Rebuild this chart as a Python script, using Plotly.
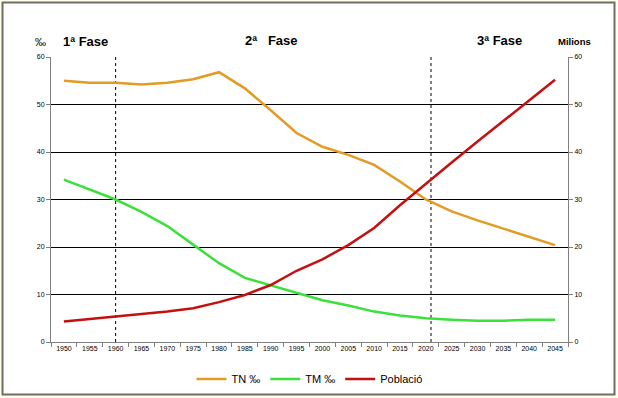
import plotly.graph_objects as go

years = list(range(1950, 2050, 5))
tn = [55.0, 54.6, 54.6, 54.2, 54.6, 55.3, 56.8, 53.4, 48.8, 44.0, 41.1, 39.4, 37.3, 33.8, 30.0, 27.5, 25.6, 23.9, 22.2, 20.4]
tm = [34.2, 32.1, 30.0, 27.4, 24.4, 20.5, 16.6, 13.5, 11.9, 10.4, 8.8, 7.7, 6.4, 5.6, 5.0, 4.7, 4.5, 4.5, 4.7, 4.7]
pob = [4.3, 4.8, 5.3, 5.8, 6.4, 7.1, 8.4, 9.9, 12.0, 15.0, 17.4, 20.4, 24.0, 28.8, 33.4, 37.8, 42.2, 46.6, 50.9, 55.2]
phase_breaks = [1960, 2021]
tick_labels = [str(y) for y in years]

W, H = 618, 398
L, R, T, B = 51, 568, 57, 342

def px_x(p):
    return (p - L) / (R - L)

def px_y(p):
    return (B - p) / (B - T)

orange = "#E39B24"
green = "#3BE03B"
red = "#C41010"

fig = go.Figure()
fig.add_trace(go.Scatter(x=years, y=tn, name="TN ‰", mode="lines",
                         line=dict(color=orange, width=2.5)))
fig.add_trace(go.Scatter(x=years, y=tm, name="TM ‰", mode="lines",
                         line=dict(color=green, width=2.5)))
fig.add_trace(go.Scatter(x=years, y=pob, name="Població", mode="lines",
                         line=dict(color=red, width=2.5), yaxis="y2"))

shapes = []
# outer frame
shapes.append(dict(type="rect", xref="paper", yref="paper", layer="below",
                   x0=px_x(2.5), x1=px_x(614.5), y0=px_y(394.5), y1=px_y(2.5),
                   fillcolor="white", line=dict(color="#6E6E66", width=2)))
# phase dashed lines
for xb in phase_breaks:
    shapes.append(dict(type="line", xref="x", yref="y", x0=xb, x1=xb, y0=0, y1=60,
                       line=dict(color="black", width=1, dash="dot"), layer="below"))

font = "Liberation Sans, Arial, sans-serif"
ann = []
def a(text, xp, yp, size, bold=False):
    ann.append(dict(text=("<b>%s</b>" % text) if bold else text, xref="paper", yref="paper",
                    x=px_x(xp), y=px_y(yp), showarrow=False, xanchor="center", yanchor="middle",
                    font=dict(family=font, size=size, color="black")))
a("‰", 40, 42, 11)
a("1ª Fase", 85, 41, 13, True)
a("2ª   Fase", 271, 40, 13, True)
a("3ª Fase", 499, 40, 13, True)
a("Milions", 574, 41, 9.5, True)

fig.update_layout(
    width=W, height=H, autosize=False,
    margin=dict(l=L, r=W - R, t=T, b=H - B, autoexpand=False),
    paper_bgcolor="#FFFFEC",
    plot_bgcolor="#FFFFC4",
    font=dict(family=font, size=7, color="black"),
    showlegend=True,
    legend=dict(orientation="h", x=0.5, xanchor="center", y=px_y(379), yanchor="middle",
                font=dict(size=11, family=font), bgcolor="rgba(0,0,0,0)", tracegroupgap=0,
                itemwidth=30),
    shapes=shapes,
    annotations=ann,
    xaxis=dict(range=[1947.5, 2047.5], tickvals=years, ticktext=tick_labels,
               showgrid=False, zeroline=False, showline=True, linecolor="#808080", linewidth=1,
               ticks="", tickfont=dict(size=7),
               minor=dict(tick0=1947.5, dtick=5, ticks="outside", ticklen=4, tickcolor="#808080",
                          showgrid=False)),
    yaxis=dict(range=[0, 60], tickvals=[0, 10, 20, 30, 40, 50, 60], showgrid=True,
               gridcolor="black", gridwidth=1, zeroline=False, showline=True,
               linecolor="#808080", linewidth=1, ticks="outside", ticklen=4,
               tickcolor="#808080", tickfont=dict(size=7)),
    yaxis2=dict(range=[0, 60], overlaying="y", side="right",
                tickvals=[0, 10, 20, 30, 40, 50, 60], showgrid=False, zeroline=False,
                showline=True, linecolor="#808080", linewidth=1, ticks="outside", ticklen=4,
                tickcolor="#808080", tickfont=dict(size=7)),
)

fig.write_html("out.html", config={"displayModeBar": False},
               post_script="document.body.style.margin='0';document.body.style.overflow='hidden';")
